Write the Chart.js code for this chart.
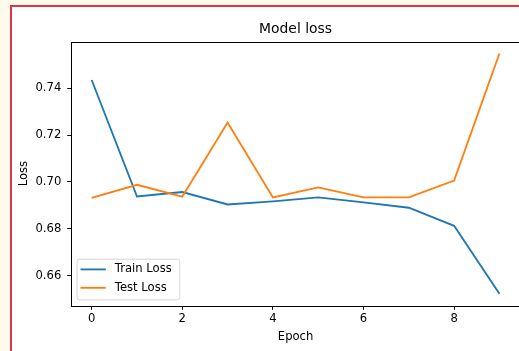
<!DOCTYPE html>
<html>
<head>
<meta charset="utf-8">
<script src="https://cdn.jsdelivr.net/npm/chart.js@4.4.1/dist/chart.umd.min.js"></script>
<style>
  html, body { margin: 0; padding: 0; overflow: hidden; background: #fffaeb; width: 519px; height: 351px; }
  #frame { position: absolute; left: 10px; top: 5px; width: 600px; height: 400px; background: #fff; border-left: 2px solid #dc3545; border-top: 2px solid #dc3545; }
  #wrap { position: absolute; left: 0; top: 0; width: 540px; height: 351px; }
</style>
</head>
<body>
<div id="frame"></div>
<div id="wrap"><canvas id="chart" width="540" height="351"></canvas></div>
<script>
// Data
const epochs = [0, 1, 2, 3, 4, 5, 6, 7, 8, 9]
const trainLoss = [0.7435, 0.6938, 0.6957, 0.6904, 0.6917, 0.6934, 0.6913, 0.6890, 0.6813, 0.6523]
const testLoss = [0.6932, 0.6988, 0.6937, 0.7254, 0.6934, 0.6977, 0.6934, 0.6934, 0.7006, 0.7548]
const xTicks = [0, 2, 4, 6, 8]
const yTicks = [0.66, 0.68, 0.70, 0.72, 0.74]
const yTickLabels = ["0.66", "0.68", "0.70", "0.72", "0.74"]

const FONT = "'DejaVu Sans', sans-serif"
const FS = 11.6

// Box around the plot area (matplotlib spines)
const spines = {
  id: "spines",
  afterDatasetsDraw(chart) {
    const { ctx, chartArea: a } = chart
    ctx.save()
    ctx.strokeStyle = "#000"
    ctx.lineWidth = 1
    ctx.strokeRect(Math.round(a.left) + 0.5, Math.round(a.top) + 0.5, Math.round(a.right - a.left), Math.round(a.bottom - a.top))
    ctx.restore()
  },
}

// Legend in the lower left corner, inside the axes
const innerLegend = {
  id: "innerLegend",
  afterDraw(chart) {
    const { ctx, chartArea: a } = chart
    const pad = 0.5 * FS
    const w = 102.7
    const h = 40.7
    const x = a.left + pad
    const y = a.bottom - pad - h
    ctx.save()
    ctx.fillStyle = "rgba(255,255,255,0.8)"
    ctx.strokeStyle = "rgba(204,204,204,0.8)"
    ctx.lineWidth = 1
    ctx.beginPath()
    ctx.roundRect(x, y, w, h, 2.5)
    ctx.fill()
    ctx.stroke()
    ctx.font = `${FS}px ${FONT}`
    ctx.textBaseline = "middle"
    ctx.textAlign = "left"
    chart.data.datasets.forEach((ds, i) => {
      const ry = y + 10.2 + i * 18.4
      ctx.strokeStyle = ds.borderColor
      ctx.lineWidth = ds.borderWidth
      ctx.beginPath()
      ctx.moveTo(x + 3.4, ry)
      ctx.lineTo(x + 28.7, ry)
      ctx.stroke()
      ctx.fillStyle = "#000"
      ctx.fillText(ds.label, x + 37.7, ry)
    })
    ctx.restore()
  },
}

new Chart(document.getElementById("chart"), {
  type: "line",
  data: {
    datasets: [
      {
        label: "Train Loss",
        data: epochs.map((e, i) => ({ x: e, y: trainLoss[i] })),
        borderColor: "#1f77b4",
        borderWidth: 1.85,
        pointRadius: 0,
        tension: 0,
        order: 2,
      },
      {
        label: "Test Loss",
        data: epochs.map((e, i) => ({ x: e, y: testLoss[i] })),
        borderColor: "#ff7f0e",
        borderWidth: 1.85,
        pointRadius: 0,
        tension: 0,
        order: 1,
      },
    ],
  },
  options: {
    responsive: false,
    animation: false,
    layout: { padding: { left: 0, right: 20.2, top: 0, bottom: 0 } },
    plugins: {
      legend: { display: false },
      tooltip: { enabled: false },
      title: {
        display: true,
        text: "Model loss",
        color: "#000",
        fullSize: false,
        font: { family: FONT, size: 13.9, weight: "normal", lineHeight: 1.2 },
        padding: { top: 21, bottom: 3.9 },
      },
    },
    scales: {
      x: {
        type: "linear",
        min: -0.45,
        max: 9.45,
        afterBuildTicks: (s) => { s.ticks = xTicks.map((v) => ({ value: v })) },
        afterFit: (s) => { s.height = 45.3 },
        border: { display: false },
        grid: { drawOnChartArea: false, drawTicks: true, tickLength: 4, tickColor: "#000", tickWidth: 1 },
        ticks: { color: "#000", padding: 2, maxRotation: 0, font: { family: FONT, size: FS }, callback: (v) => String(v) },
        title: { display: true, text: "Epoch", color: "#000", font: { family: FONT, size: FS, lineHeight: 1.2 }, padding: { top: 0, bottom: 7.5 } },
      },
      y: {
        min: 0.6472,
        max: 0.7599,
        afterBuildTicks: (s) => { s.ticks = yTicks.map((v) => ({ value: v })) },
        afterFit: (s) => { s.width = 71.3 },
        border: { display: false },
        grid: { drawOnChartArea: false, drawTicks: true, tickLength: 4, tickColor: "#000", tickWidth: 1 },
        ticks: { color: "#000", padding: 6, font: { family: FONT, size: FS }, callback: (v) => yTickLabels[yTicks.indexOf(v)] ?? "" },
        title: { display: true, text: "Loss", color: "#000", font: { family: FONT, size: FS, lineHeight: 1.2 }, padding: { top: 16.8, bottom: 0 } },
      },
    },
  },
  plugins: [spines, innerLegend],
})
</script>
</body>
</html>
